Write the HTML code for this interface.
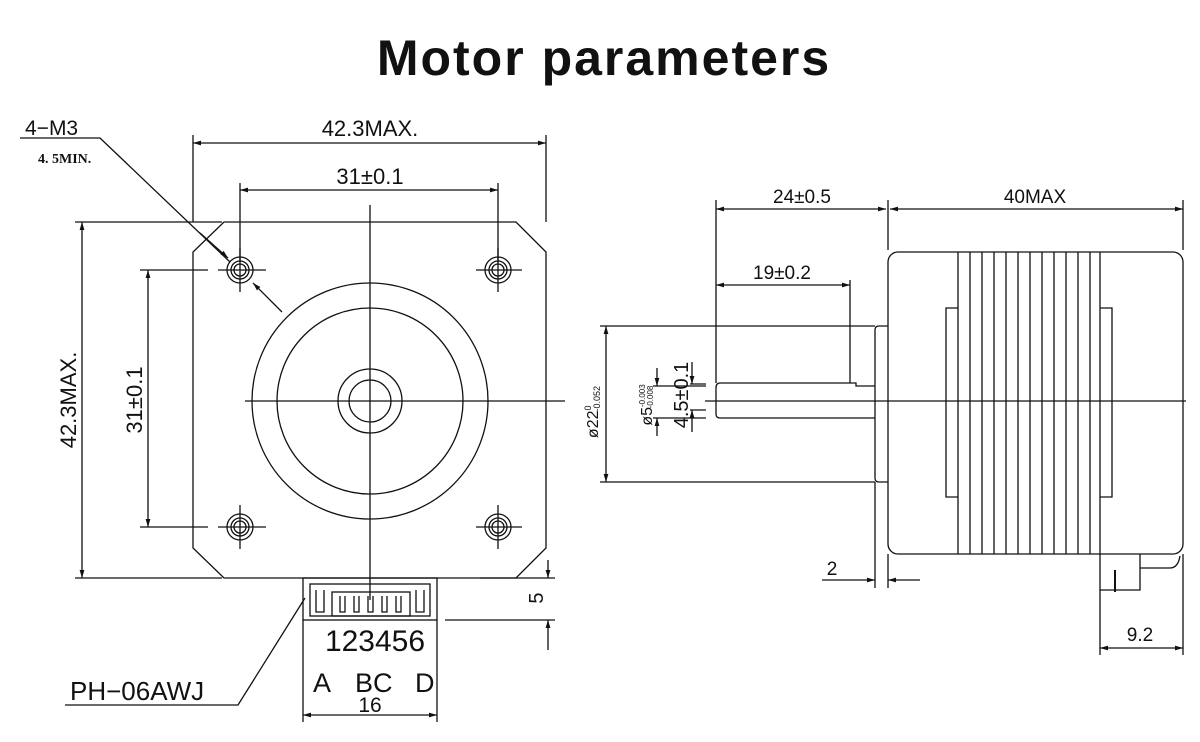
<!DOCTYPE html>
<html><head><meta charset="utf-8"><style>
html,body{margin:0;padding:0;background:#fff;}
svg{display:block;}
text{font-family:"Liberation Sans",sans-serif;fill:#111;}
</style></head><body>
<svg width="1200" height="742" viewBox="0 0 1200 742" xmlns="http://www.w3.org/2000/svg">
<defs>
<marker id="a" viewBox="0 0 10 10" refX="10" refY="5" markerWidth="10" markerHeight="8" orient="auto-start-reverse" markerUnits="userSpaceOnUse"><path d="M0,2 L10,5 L0,8 z" fill="#111"/></marker>
</defs>
<text x="604" y="75" font-size="50" font-weight="bold" text-anchor="middle" letter-spacing="2">Motor parameters</text>
<g stroke="#111" stroke-width="1.3" fill="none">
<path d="M224,222 L516,222 L546,252 L546,548 L516,578 L224,578 L193,548 L193,252 Z"/>
<circle cx="370" cy="401" r="118"/>
<circle cx="370" cy="401" r="93"/>
<circle cx="370" cy="401" r="32"/>
<circle cx="370" cy="401" r="21"/>
<g>
<circle cx="240" cy="270" r="13"/><circle cx="240" cy="270" r="9"/><circle cx="240" cy="270" r="6"/>
<circle cx="498" cy="270" r="13"/><circle cx="498" cy="270" r="9"/><circle cx="498" cy="270" r="6"/>
<circle cx="240" cy="527" r="13"/><circle cx="240" cy="527" r="9"/><circle cx="240" cy="527" r="6"/>
<circle cx="498" cy="527" r="13"/><circle cx="498" cy="527" r="9"/><circle cx="498" cy="527" r="6"/>
</g>
<path d="M218,270 H266 M240,248 V292 M476,270 H522 M498,248 V292 M218,527 H266 M240,505 V549 M476,527 H522 M498,505 V549"/>
<path d="M370,205 V600 M245,401 H565"/>
<path d="M193,135 V222 M546,135 V222 M240,183 V262 M498,183 V262"/>
<path d="M193,143 H546" marker-start="url(#a)" marker-end="url(#a)"/>
<path d="M240,190 H498" marker-start="url(#a)" marker-end="url(#a)"/>
<path d="M75,222 H222 M75,578 H222 M140,270 H208 M140,527 H208"/>
<path d="M82,222 V578" marker-start="url(#a)" marker-end="url(#a)"/>
<path d="M148,270 V527" marker-start="url(#a)" marker-end="url(#a)"/>
<path d="M20,138 H100 L230,262"/>
<path d="M200,233 L228,258" marker-end="url(#a)"/>
<path d="M282,312 L253,283" marker-end="url(#a)"/>
<rect x="303" y="578" width="134" height="42"/>
<rect x="310" y="584" width="120" height="32"/>
<rect x="332" y="592" width="78" height="24"/>
<path d="M316,590 V612 H324 V590 M416,590 V612 H424 V590"/>
<path d="M340,596 V612 H345 V596 M354,596 V612 H359 V596 M368,596 V612 H373 V596 M382,596 V612 H387 V596 M396,596 V612 H401 V596"/>
<path d="M303,620 V722 M437,620 V722"/>
<path d="M303,715 H437" marker-start="url(#a)" marker-end="url(#a)"/>
<path d="M445,620 H555 M480,578 H555"/>
<path d="M548,560 V578" marker-end="url(#a)"/>
<path d="M548,650 V620" marker-end="url(#a)"/>
<path d="M65,705 H238 L305,598"/>
<rect x="888" y="252" width="295" height="302" rx="10"/>
<path d="M958,252 V554 M970,252 V554 M982,252 V554 M994,252 V554 M1006,252 V554 M1018,252 V554 M1030,252 V554 M1042,252 V554 M1054,252 V554 M1066,252 V554 M1078,252 V554 M1090,252 V554 M1100,252 V554"/>
<path d="M958,308 H946 V497 H958 M1100,308 H1112 V497 H1100"/>
<path d="M888,326 H879 Q875,326 875,330 V478 Q875,482 879,482 H888"/>
<path d="M875,386 H856 V383 H720 Q716,383 716,388 V414 Q716,418 720,418 H875"/>
<path d="M705,401 H1186"/>
<path d="M716,200 V383 M888,200 V250 M1183,200 V250 M850,280 V383"/>
<path d="M716,209 H886" marker-start="url(#a)" marker-end="url(#a)"/>
<path d="M890,209 H1183" marker-start="url(#a)" marker-end="url(#a)"/>
<path d="M716,285 H850" marker-start="url(#a)" marker-end="url(#a)"/>
<path d="M600,326 H875 M600,482 H875"/>
<path d="M606,326 V482" marker-start="url(#a)" marker-end="url(#a)"/>
<path d="M653,386 H706 M653,418 H706 M690,384 H706 M690,410 H706"/>
<path d="M657,368 V386" marker-end="url(#a)"/>
<path d="M657,436 V418" marker-end="url(#a)"/>
<path d="M692,362 V384" marker-end="url(#a)"/>
<path d="M692,432 V410" marker-end="url(#a)"/>
<path d="M875,482 V588 M888,554 V588"/>
<path d="M822,580 H875" marker-end="url(#a)"/>
<path d="M920,580 H888" marker-end="url(#a)"/>
<path d="M1100,554 V590 H1140 V554 M1140,568 H1170 Q1178,568 1180,556"/>
<path d="M1115,570 V592" stroke-width="2"/>
<path d="M1100,590 V655 M1183,554 V655"/>
<path d="M1100,648 H1183" marker-start="url(#a)" marker-end="url(#a)"/>
</g>
<text x="25" y="135" font-size="21">4−M3</text>
<text x="38" y="163" font-size="14" font-weight="bold" style="font-family:'Liberation Serif',serif">4. 5MIN.</text>
<text x="370" y="136" font-size="22" text-anchor="middle">42.3MAX.</text>
<text x="370" y="184" font-size="22" text-anchor="middle">31±0.1</text>
<text transform="translate(76,400) rotate(-90)" font-size="22" text-anchor="middle">42.3MAX.</text>
<text transform="translate(142,400) rotate(-90)" font-size="22" text-anchor="middle">31±0.1</text>
<text x="375" y="651" font-size="30" text-anchor="middle">123456</text>
<text x="313" y="692" font-size="27">A</text>
<text x="355" y="692" font-size="27">BC</text>
<text x="415" y="692" font-size="27">D</text>
<text x="370" y="712" font-size="21" text-anchor="middle">16</text>
<text x="70" y="700" font-size="26">PH−06AWJ</text>
<text transform="translate(543,598) rotate(-90)" font-size="20" text-anchor="middle">5</text>
<text x="802" y="203" font-size="19" text-anchor="middle">24±0.5</text>
<text x="1035" y="203" font-size="19" text-anchor="middle">40MAX</text>
<text x="782" y="279" font-size="19" text-anchor="middle">19±0.2</text>
<text transform="translate(598,412) rotate(-90)" font-size="16" text-anchor="middle">ø22<tspan font-size="9" dy="-7">0</tspan><tspan font-size="9" dx="-6" dy="9">-0.052</tspan></text>
<text transform="translate(652,405) rotate(-90)" font-size="16" text-anchor="middle">ø5<tspan font-size="8" dy="-7">-0.003</tspan><tspan font-size="8" dx="-24" dy="8">-0.008</tspan></text>
<text transform="translate(688,395) rotate(-90)" font-size="20" text-anchor="middle">4.5±0.1</text>
<text x="832" y="575" font-size="19" text-anchor="middle">2</text>
<text x="1140" y="641" font-size="19" text-anchor="middle">9.2</text>
</svg>
</body></html>
